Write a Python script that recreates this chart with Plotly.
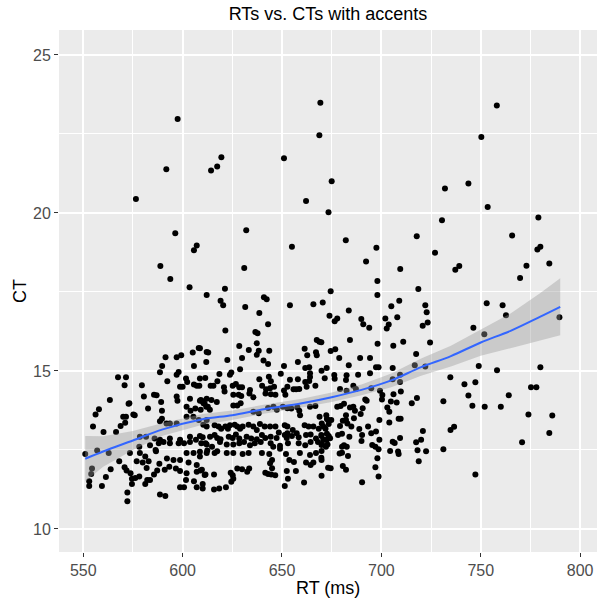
import plotly.graph_objects as go

# ---- Data ----
# Sparse high points (CT > ~17.5)
high_pts = [
    (669.3, 23.49), (597.5, 22.97), (668.8, 22.46), (619.5, 21.76), (651.0, 21.73),
    (617.4, 21.47), (591.8, 21.38), (614.3, 21.34), (576.5, 20.44), (662.1, 20.38),
    (675.0, 21.00), (673.4, 20.02), (596.3, 19.36), (632.0, 19.45), (655.0, 18.93),
    (607.1, 18.97), (605.7, 18.82), (588.8, 18.32), (631.0, 18.26), (593.8, 17.91),
    (603.5, 17.65), (621.3, 17.60),
    (758.1, 23.40), (750.3, 22.40), (732.0, 20.77), (743.8, 20.93), (753.5, 20.19),
    (779.0, 19.86), (730.5, 19.77), (682.1, 19.14), (697.5, 18.90), (717.8, 19.26),
    (765.8, 19.29), (692.3, 18.46), (709.5, 18.23), (727.0, 18.74), (737.2, 18.20),
    (739.2, 18.32), (778.5, 18.84), (780.0, 18.93), (773.0, 18.33), (784.5, 18.40),
    (769.8, 17.94), (698.0, 17.85), (718.6, 17.59),
]

# Right-hand region (RT > ~730)
right_pts = [
    (753.0, 17.14), (761.0, 17.08), (762.7, 16.76), (746.3, 16.37), (751.8, 16.16),
    (789.6, 16.70), (749.0, 15.16), (758.2, 15.02), (780.0, 15.12), (734.7, 14.80),
    (741.8, 14.58), (747.3, 14.64), (743.8, 14.22), (764.1, 14.23), (745.8, 13.90),
    (752.0, 13.87), (760.1, 13.87), (775.3, 14.48), (778.0, 14.48), (774.0, 13.62),
    (786.0, 13.59), (731.2, 14.04), (734.8, 13.13), (736.6, 13.23), (784.5, 13.04),
    (770.8, 12.74), (731.2, 12.52), (747.3, 11.72),
]

# RT ~670-730
mid_right_pts = [
    (674.5, 17.52), (698.0, 17.40), (670.5, 17.17), (709.0, 17.22), (705.0, 17.05),
    (722.1, 17.08), (722.8, 16.86), (683.6, 16.91), (673.9, 16.75), (677.8, 16.66),
    (676.5, 16.57), (689.9, 16.64), (690.9, 16.48), (693.9, 16.37), (702.0, 16.66),
    (708.0, 16.70), (703.7, 16.47), (702.7, 16.34), (720.8, 16.43), (723.3, 16.53),
    (669.8, 15.91), (684.2, 15.98), (698.1, 15.86), (711.0, 15.92), (706.0, 15.80),
    (724.5, 15.90), (674.5, 15.63), (676.8, 15.69), (678.8, 15.41), (689.3, 15.41),
    (694.3, 15.41), (717.5, 15.54), (669.9, 15.01), (672.5, 15.09), (676.3, 14.87),
    (676.5, 14.75), (671.5, 14.77), (682.5, 14.86), (682.2, 14.71), (683.6, 15.18),
    (688.3, 14.88), (694.3, 14.93), (697.3, 15.12), (698.6, 15.12), (705.7, 15.09),
    (709.4, 14.65), (709.4, 14.88), (705.7, 14.74), (716.8, 15.18), (722.1, 15.14),
    (685.9, 14.53), (687.2, 14.43), (682.5, 14.37), (679.2, 14.43), (694.9, 14.45),
    (699.3, 14.37), (700.5, 14.24), (706.1, 14.26), (709.8, 14.35), (717.9, 14.14),
    (715.3, 13.98), (700.3, 14.10), (704.8, 14.03), (707.7, 14.00), (691.9, 14.10),
    (692.6, 14.06), (703.0, 13.84), (704.0, 13.71), (689.6, 13.64), (686.7, 13.74),
    (685.9, 13.87), (684.2, 13.84), (679.5, 13.89), (681.2, 13.96), (677.8, 13.87),
    (672.6, 13.48), (674.8, 13.45), (673.5, 13.32), (670.0, 13.34), (670.8, 13.24),
    (679.2, 13.26), (680.6, 13.42), (682.9, 13.34), (684.9, 13.24), (688.9, 13.16),
    (693.3, 13.24), (699.0, 13.45), (704.0, 13.37), (708.7, 13.49), (709.7, 13.49),
    (694.9, 13.03), (697.3, 13.08), (690.3, 12.97), (690.0, 12.78), (683.9, 12.92),
    (680.2, 13.01), (678.2, 12.97), (672.6, 13.01), (674.2, 12.87), (669.9, 12.94),
    (670.8, 12.82), (672.9, 12.67), (669.9, 12.66), (681.2, 12.65), (680.2, 12.60),
    (682.6, 12.60), (680.2, 12.41), (679.0, 12.39), (683.2, 12.31), (669.9, 12.47),
    (669.9, 12.18), (695.4, 12.66), (697.0, 12.60), (698.6, 12.52), (699.0, 12.82),
    (705.7, 12.76), (706.7, 12.72), (709.4, 12.88), (704.4, 12.47), (708.4, 12.45),
    (708.7, 12.37), (698.0, 12.24), (673.2, 11.94), (674.5, 11.92), (680.6, 11.99),
    (682.2, 11.87), (697.0, 11.95), (698.6, 11.66), (669.9, 11.68), (690.3, 11.48),
    (717.5, 12.74), (720.0, 12.82), (718.2, 12.49), (722.5, 12.46), (718.8, 12.14),
    (720.9, 13.10), (690.6, 13.82), (682.2, 13.60), (686.2, 13.50), (682.2, 13.45),
]

# RT ~608-670, upper part
mid_upper_pts = [
    (612.1, 17.40), (619.1, 17.22), (620.4, 17.08), (640.9, 17.33), (642.3, 17.27),
    (631.5, 17.02), (638.6, 16.83), (654.0, 17.08), (665.8, 17.11), (643.0, 16.48),
    (621.5, 16.28), (636.6, 16.23), (637.7, 16.19), (637.3, 15.88), (628.5, 15.79),
    (633.3, 15.66), (638.3, 15.64), (637.3, 15.51), (643.6, 15.64), (608.7, 15.72),
    (612.9, 15.58), (611.9, 15.28), (622.5, 15.35), (629.9, 15.41), (640.7, 15.33),
    (643.0, 15.22), (628.9, 15.05), (651.0, 15.16), (658.0, 15.28), (661.4, 15.70),
    (662.7, 15.50), (667.1, 15.59), (667.5, 15.50), (667.5, 15.98), (668.8, 15.92),
    (661.7, 15.09), (663.7, 15.12), (664.1, 14.93), (664.1, 14.81), (663.7, 14.68),
    (661.7, 14.65), (649.4, 14.91), (658.0, 14.74), (654.0, 14.72), (652.7, 14.50),
    (655.8, 14.42), (657.1, 14.42), (658.7, 14.43), (662.4, 14.50), (666.8, 14.53),
    (608.7, 14.76), (611.4, 14.78), (618.5, 14.90), (617.5, 14.67), (615.5, 14.53),
    (614.1, 14.53), (624.5, 14.95), (623.8, 14.88), (620.8, 14.48), (621.1, 14.35),
    (625.2, 14.53), (626.8, 14.59), (628.5, 14.48), (629.9, 14.48), (625.5, 14.25),
    (628.2, 14.25), (629.5, 14.21), (633.9, 14.40), (638.6, 14.74), (640.0, 14.53),
    (642.0, 14.42), (644.0, 14.45), (646.0, 14.50), (643.4, 14.82), (644.4, 14.67),
    (633.6, 14.29), (635.6, 14.17), (641.7, 14.29), (644.4, 14.26), (646.7, 14.25),
    (651.7, 14.25), (651.0, 14.38), (625.5, 13.91), (627.5, 13.91), (629.2, 13.98),
    (614.5, 14.08), (617.2, 14.02), (609.2, 14.08), (610.5, 13.98), (611.9, 13.87),
    (613.7, 13.77), (635.6, 13.71), (638.3, 13.66), (643.0, 13.83), (645.7, 13.87),
    (647.4, 13.77), (650.4, 13.87), (652.7, 13.82), (654.7, 13.81), (657.7, 13.85),
    (658.7, 13.74), (659.1, 13.60), (664.1, 13.87), (666.8, 13.89), (668.9, 13.55),
    (672.3, 13.60),
]

# RT ~608-673, lower part
mid_lower_pts = [
    (610.4, 13.30), (612.1, 13.24), (616.1, 13.28), (618.1, 13.24), (619.4, 13.17),
    (621.5, 13.24), (622.8, 13.17), (623.8, 13.28), (626.2, 13.30), (627.5, 13.24),
    (628.9, 13.17), (630.2, 13.24), (633.2, 13.30), (635.6, 13.24), (637.3, 13.13),
    (638.9, 13.32), (641.3, 13.24), (644.0, 13.24), (646.7, 13.24), (648.4, 13.05),
    (651.4, 13.28), (652.7, 13.24), (655.4, 13.13), (652.7, 13.03), (657.4, 13.03),
    (661.4, 13.28), (663.4, 13.24), (665.8, 13.24), (668.5, 13.17), (671.9, 13.17),
    (673.2, 13.45),
    (610.1, 12.90), (613.8, 12.92), (616.1, 12.97), (617.4, 12.88), (619.1, 12.84),
    (623.2, 12.92), (625.2, 12.88), (626.8, 12.99), (628.5, 12.86), (632.2, 12.92),
    (634.5, 12.86), (637.3, 12.84), (639.9, 12.97), (641.6, 12.88), (644.3, 12.92),
    (647.3, 12.88), (651.4, 12.97), (652.4, 12.88), (655.0, 12.94), (658.4, 12.90),
    (662.1, 12.97), (664.4, 12.99), (667.1, 12.86), (669.8, 12.97), (672.5, 12.82),
    (673.5, 12.94),
    (609.4, 12.71), (612.1, 12.67), (614.8, 12.60), (618.8, 12.75), (622.2, 12.67),
    (625.5, 12.67), (628.5, 12.71), (630.9, 12.75), (633.9, 12.65), (636.3, 12.71),
    (639.3, 12.75), (644.3, 12.71), (645.6, 12.60), (649.0, 12.63), (653.0, 12.71),
    (658.4, 12.71), (661.7, 12.65), (664.4, 12.75), (668.1, 12.75), (670.1, 12.69),
    (672.1, 12.60),
    (608.7, 12.44), (612.4, 12.48), (616.1, 12.40), (617.4, 12.46), (622.2, 12.40),
    (625.5, 12.40), (630.2, 12.37), (633.2, 12.40), (639.9, 12.40), (643.6, 12.37),
    (645.0, 12.18), (649.0, 12.54), (652.0, 12.37), (653.7, 12.18), (656.0, 12.12),
    (659.0, 12.40), (662.1, 12.10), (664.1, 12.34), (665.8, 12.10), (667.1, 12.40),
    (669.8, 12.25),
    (609.0, 11.85), (611.1, 11.71), (615.8, 11.72), (624.2, 11.78), (625.2, 11.70),
    (625.5, 11.59), (627.5, 11.91), (629.9, 11.89), (633.5, 11.91), (632.5, 11.81),
    (641.6, 11.78), (643.0, 11.74), (644.6, 11.72), (646.6, 11.70), (652.4, 11.83),
    (653.0, 11.59), (651.4, 11.36), (657.0, 11.83), (661.1, 11.47), (664.4, 12.02),
    (624.5, 11.49), (610.1, 11.28), (615.8, 11.25), (618.4, 11.28), (621.8, 11.32),
    (645.0, 11.92), (644.0, 12.08),
]

# RT ~551-612
left_pts = [
    (591.4, 15.43), (597.0, 15.43), (599.3, 15.50), (605.1, 15.58), (608.1, 15.73),
    (612.1, 15.60), (589.7, 15.16), (588.6, 14.96), (598.0, 14.97), (597.0, 14.88),
    (592.3, 14.67), (601.7, 14.76), (602.3, 14.65), (600.0, 14.50), (598.7, 14.50),
    (605.7, 15.16), (605.7, 14.57), (607.1, 14.53), (608.4, 14.53),
    (567.5, 14.80), (571.5, 14.80), (570.8, 14.55), (579.5, 14.55), (563.4, 14.08),
    (573.2, 13.98), (580.5, 14.19), (585.6, 14.25), (586.9, 14.23), (589.2, 14.02),
    (589.6, 13.74), (597.0, 14.19), (597.4, 14.06), (603.7, 14.12), (608.7, 14.06),
    (610.0, 14.04), (612.1, 14.12),
    (557.9, 13.79), (556.2, 13.62), (554.9, 13.24), (560.2, 13.07), (566.5, 13.07),
    (568.8, 13.26), (570.1, 13.55), (571.5, 13.55), (575.2, 13.62), (575.9, 13.60),
    (571.1, 13.36), (572.8, 13.96), (582.6, 13.81), (589.6, 13.49), (588.6, 13.41),
    (591.9, 13.34), (593.6, 13.34), (597.0, 13.34), (602.0, 13.87), (604.0, 13.74),
    (606.4, 13.81), (609.1, 13.77), (611.1, 13.96), (612.7, 13.87), (602.0, 13.55),
    (605.4, 13.55), (608.1, 13.45), (612.1, 13.45),
    (551.0, 12.37), (554.4, 11.91), (554.0, 11.74), (553.0, 11.51), (553.0, 11.36),
    (559.4, 11.36), (561.4, 11.64), (563.8, 11.89), (557.0, 12.48), (562.8, 12.40),
    (568.1, 12.14), (570.8, 11.95), (571.8, 11.85), (573.8, 11.76), (574.5, 11.42),
    (572.2, 11.15), (572.2, 10.88), (574.5, 11.59), (576.2, 11.61), (573.5, 12.40),
    (578.5, 12.40), (581.2, 12.29), (582.9, 12.14), (586.6, 12.46), (588.3, 12.06),
    (585.6, 11.72), (582.2, 11.55), (583.6, 11.55), (581.2, 11.42), (588.6, 11.09),
    (591.3, 11.04), (591.0, 11.87), (593.3, 11.97), (596.6, 11.91), (598.7, 11.83),
    (602.0, 11.76), (598.7, 11.32), (600.7, 11.32), (601.7, 11.55), (605.7, 11.51),
    (607.1, 11.32), (610.1, 11.42), (611.5, 11.72), (607.1, 11.81), (609.7, 11.87),
    (602.0, 12.40), (605.5, 12.40), (608.7, 12.29), (612.1, 12.40), (588.0, 12.71),
    (590.4, 12.75), (593.6, 12.71), (598.0, 12.71), (600.7, 12.71), (603.7, 12.75),
    (606.7, 12.82), (611.5, 12.71), (578.5, 12.92), (581.6, 12.92), (585.9, 12.86),
    (588.6, 12.82), (593.6, 12.86), (598.7, 12.82), (603.7, 12.92), (608.7, 12.94),
    (583.6, 12.65), (586.4, 12.50), (592.1, 12.23), (595.4, 12.18), (598.7, 12.18),
    (603.0, 12.10), (607.1, 12.02), (578.2, 12.60), (576.9, 12.14), (579.9, 12.10),
    (581.9, 11.93), (578.2, 11.66), (587.2, 11.85),
]

# Smooth (loess) fit and its confidence band
smooth_rt = [551, 560, 575, 590, 610, 625, 640, 660, 675, 690, 705, 720, 735, 750, 765, 780, 790]
smooth_ct = [12.22, 12.45, 12.80, 13.15, 13.47, 13.60, 13.78, 13.98, 14.17, 14.40, 14.70, 15.12, 15.47, 15.90, 16.27, 16.72, 17.03]
smooth_lo = [11.50, 11.97, 12.50, 12.95, 13.30, 13.45, 13.64, 13.84, 14.02, 14.23, 14.48, 14.85, 15.14, 15.48, 15.72, 15.97, 16.13]
smooth_hi = [12.94, 12.93, 13.10, 13.35, 13.64, 13.75, 13.92, 14.12, 14.32, 14.57, 14.92, 15.39, 15.80, 16.32, 16.82, 17.47, 17.93]

x_ticks = [550, 600, 650, 700, 750, 800]
y_ticks = [10, 15, 20, 25]

all_pts = high_pts + right_pts + mid_right_pts + mid_upper_pts + mid_lower_pts + left_pts
rt = [p[0] for p in all_pts]
ct = [p[1] for p in all_pts]

FONT = "Liberation Sans, Arial, sans-serif"

fig = go.Figure()
fig.add_trace(go.Scatter(
    x=rt, y=ct, mode="markers",
    marker=dict(size=6, color="#000000", line=dict(width=0)),
    hoverinfo="x+y", showlegend=False,
))
fig.add_trace(go.Scatter(
    x=smooth_rt, y=smooth_lo, mode="lines", line=dict(width=0, color="rgba(0,0,0,0)"),
    hoverinfo="skip", showlegend=False,
))
fig.add_trace(go.Scatter(
    x=smooth_rt, y=smooth_hi, mode="lines", line=dict(width=0, color="rgba(0,0,0,0)"),
    fill="tonexty", fillcolor="rgba(153,153,153,0.4)", hoverinfo="skip", showlegend=False,
))
fig.add_trace(go.Scatter(
    x=smooth_rt, y=smooth_ct, mode="lines", line=dict(color="#3366FF", width=2, shape="spline"),
    showlegend=False,
))

fig.update_layout(
    width=598, height=603,
    margin=dict(l=59, r=1, t=30, b=51),
    paper_bgcolor="white",
    plot_bgcolor="#EBEBEB",
    font=dict(family=FONT, color="#4D4D4D"),
    title=dict(text="RTs vs. CTs with accents", x=0.5, xref="paper", xanchor="center",
               y=1 - 14 / 603, yref="container", yanchor="middle",
               font=dict(family=FONT, size=18, color="#000000")),
    xaxis=dict(
        range=[537.8, 808.5], tickvals=x_ticks, ticktext=[str(v) for v in x_ticks],
        showgrid=True, gridcolor="white", gridwidth=1.6, zeroline=False,
        ticks="outside", ticklen=4, tickwidth=1, tickcolor="#333333",
        tickfont=dict(size=16, color="#4D4D4D", family=FONT),
        minor=dict(dtick=25, tick0=0, showgrid=True, gridcolor="white", gridwidth=0.8, ticks=""),
        showline=False, automargin=False,
    ),
    yaxis=dict(
        range=[9.27, 25.79], tickvals=y_ticks, ticktext=[str(v) for v in y_ticks],
        showgrid=True, gridcolor="white", gridwidth=1.6, zeroline=False,
        ticks="outside", ticklen=4, tickwidth=1, tickcolor="#333333",
        tickfont=dict(size=16, color="#4D4D4D", family=FONT),
        minor=dict(dtick=2.5, tick0=0, showgrid=True, gridcolor="white", gridwidth=0.8, ticks=""),
        showline=False, automargin=False,
    ),
    annotations=[
        dict(text="RT (ms)", xref="paper", yref="paper", x=0.5, y=(552 - 588) / 522,
             xanchor="center", yanchor="middle", showarrow=False,
             font=dict(family=FONT, size=18, color="#000000")),
        dict(text="CT", xref="paper", yref="paper", x=(20 - 59) / 538, y=0.5,
             xanchor="center", yanchor="middle", showarrow=False, textangle=-90,
             font=dict(family=FONT, size=18, color="#000000")),
    ],
)

fig.write_html(
    "out.html",
    config={"displayModeBar": False},
    post_script="document.body.style.margin='0';document.body.style.overflow='hidden';",
)
